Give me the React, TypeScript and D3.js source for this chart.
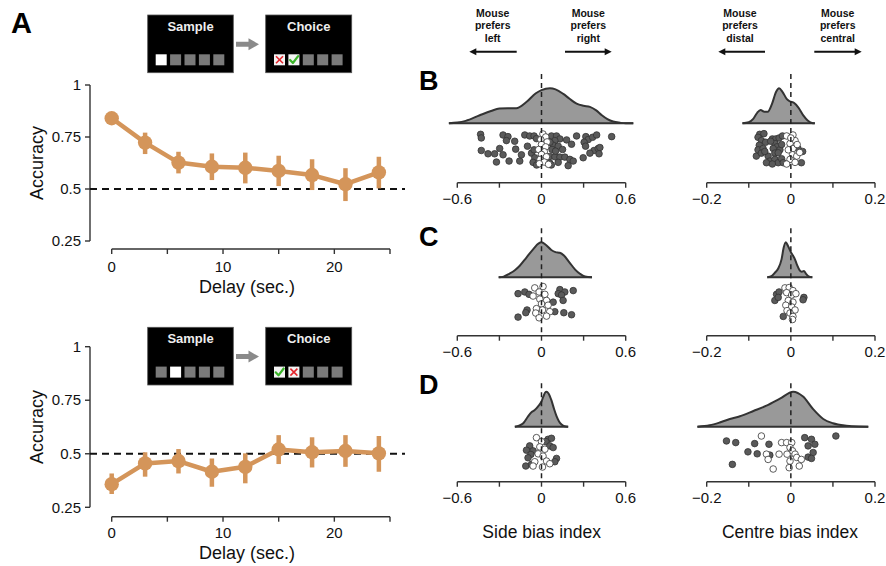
import React from 'react';
import * as d3 from 'd3';

// ---------------- data ----------------
const delays = [0, 3, 6, 9, 12, 15, 18, 21, 24];
const accMeanTop = [0.84, 0.723, 0.627, 0.607, 0.602, 0.587, 0.567, 0.523, 0.58];
const accLoTop = [0.82, 0.668, 0.575, 0.543, 0.527, 0.514, 0.495, 0.442, 0.503];
const accHiTop = [0.86, 0.771, 0.679, 0.671, 0.675, 0.66, 0.643, 0.6, 0.655];
const accMeanBottom = [0.358, 0.455, 0.466, 0.416, 0.439, 0.52, 0.507, 0.513, 0.502];
const accLoBottom = [0.312, 0.393, 0.408, 0.346, 0.362, 0.452, 0.436, 0.439, 0.416];
const accHiBottom = [0.408, 0.507, 0.522, 0.478, 0.502, 0.587, 0.577, 0.587, 0.583];

const delayTicks = [0, 5, 10, 15, 20, 25];
const delayTickLabels = ['0', '', '10', '', '20', ''];
const accTicks = [0.25, 0.5, 0.75, 1];
const accTickLabels = ['0.25', '0.5', '0.75', '1'];
const sideTicks = [-0.6, -0.3, 0, 0.3, 0.6];
const sideTickLabels = ['\u22120.6', '', '0', '', '0.6'];
const centreTicks = [-0.2, -0.1, 0, 0.1, 0.2];
const centreTickLabels = ['\u22120.2', '', '0', '', '0.2'];

// density curves: [bias value, relative height]
const densSideB: [number, number][] = [[-0.66, 0], [-0.6, 0.02], [-0.54, 0.07], [-0.44, 0.23], [-0.36, 0.35], [-0.3, 0.42], [-0.24, 0.43], [-0.18, 0.43], [-0.11, 0.6], [-0.04, 0.86], [0, 0.95], [0.06, 1], [0.1, 0.97], [0.155, 0.84], [0.2, 0.7], [0.25, 0.56], [0.3, 0.5], [0.345, 0.47], [0.39, 0.37], [0.43, 0.23], [0.47, 0.12], [0.51, 0.05], [0.56, 0.015], [0.6, 0], [0.654, 0]];
const densCentreB: [number, number][] = [[-0.115, 0], [-0.1, 0.03], [-0.09, 0.12], [-0.08, 0.3], [-0.072, 0.38], [-0.063, 0.33], [-0.055, 0.33], [-0.045, 0.55], [-0.035, 0.9], [-0.028, 1], [-0.02, 0.9], [-0.01, 0.7], [-0.003, 0.63], [0.008, 0.58], [0.018, 0.45], [0.03, 0.22], [0.04, 0.08], [0.05, 0.01], [0.057, 0]];
const densSideC: [number, number][] = [[-0.305, 0], [-0.27, 0.02], [-0.23, 0.1], [-0.19, 0.2], [-0.155, 0.33], [-0.11, 0.55], [-0.06, 0.8], [-0.02, 0.97], [0, 1], [0.03, 0.93], [0.07, 0.78], [0.1, 0.72], [0.13, 0.7], [0.16, 0.62], [0.2, 0.42], [0.24, 0.22], [0.274, 0.1], [0.31, 0.02], [0.36, 0]];
const densCentreC: [number, number][] = [[-0.056, 0], [-0.045, 0.04], [-0.038, 0.13], [-0.03, 0.25], [-0.022, 0.52], [-0.017, 0.85], [-0.012, 1], [-0.007, 0.9], [0, 0.72], [0.005, 0.62], [0.0095, 0.52], [0.015, 0.35], [0.021, 0.2], [0.026, 0.16], [0.031, 0.18], [0.036, 0.1], [0.042, 0.03], [0.051, 0]];
const densSideD: [number, number][] = [[-0.19, 0], [-0.16, 0.03], [-0.13, 0.1], [-0.1, 0.27], [-0.07, 0.42], [-0.05, 0.47], [-0.024, 0.58], [0, 0.72], [0.012, 0.85], [0.025, 0.97], [0.036, 1], [0.05, 0.95], [0.071, 0.75], [0.09, 0.5], [0.107, 0.3], [0.125, 0.15], [0.143, 0.06], [0.165, 0.01], [0.19, 0]];
const densCentreD: [number, number][] = [[-0.222, 0], [-0.193, 0.04], [-0.169, 0.12], [-0.145, 0.22], [-0.121, 0.3], [-0.089, 0.45], [-0.058, 0.6], [-0.026, 0.8], [0.0055, 1], [0.029, 0.86], [0.053, 0.5], [0.077, 0.22], [0.1, 0.1], [0.132, 0.03], [0.16, 0.005], [0.184, 0]];

// individual mice: [bias value, vertical jitter 0..1, filled (1) / open (0)]
const ptsSideB: [number, number, number][] = [
  [-0.434, 0.04, 1], [-0.429, 0.15, 1], [-0.274, 0.06, 1], [-0.239, 0.11, 1], [-0.25, 0.23, 1], [-0.191, 0.25, 1], [-0.119, 0.06, 1], [-0.084, 0.09, 1], [-0.053, 0.09, 1], [-0.036, 0.17, 1],
  [0.071, 0.09, 1], [0.107, 0.09, 1], [0.131, 0.18, 1], [0.095, 0.23, 1], [0.083, 0.37, 1], [0.119, 0.4, 1], [0.179, 0.21, 1], [0.214, 0.34, 1], [0.25, 0.09, 1], [0.316, 0.11, 1],
  [0.333, 0.2, 1], [0.304, 0.28, 1], [0.364, 0.13, 1], [0.393, 0.06, 1], [0.314, 0.4, 1], [0.374, 0.53, 1], [0.404, 0.47, 1], [0.345, 0.61, 1], [0.5, 0.11, 1], [-0.298, 0.47, 1],
  [-0.429, 0.53, 1], [-0.381, 0.63, 1], [-0.334, 0.63, 1], [-0.274, 0.66, 1], [-0.321, 0.88, 1], [-0.231, 0.85, 1], [-0.155, 0.85, 1], [-0.184, 0.49, 1], [-0.143, 0.66, 1], [-0.071, 0.61, 1],
  [-0.053, 0.51, 1], [-0.048, 0.75, 1], [-0.06, 0.89, 1], [0.059, 0.71, 1], [0.095, 0.72, 1], [0.131, 0.73, 1], [0.166, 0.73, 1], [0.202, 0.8, 1], [0.226, 0.85, 1], [0.19, 0.99, 1],
  [0.119, 0.89, 1], [0.059, 0.91, 1], [0.297, 0.75, 1], [0.416, 0.44, 1], [0.41, 0.63, 1], [0.075, 0.5, 1], [0.1, 0.55, 1], [0.06, 0.28, 1], [0.15, 0.5, 1], [-0.1, 0.4, 1],
  [0.07, 0.97, 1], [-0.035, 0.97, 1],
  [0.01, 0.03, 0], [0.03, 0.12, 0], [-0.005, 0.2, 0], [0.04, 0.27, 0], [0.0, 0.35, 0], [0.03, 0.42, 0], [-0.02, 0.5, 0], [0.02, 0.57, 0], [0.0, 0.65, 0], [0.035, 0.72, 0],
  [-0.01, 0.8, 0], [0.02, 0.88, 0], [0.05, 0.95, 0], [-0.015, 0.93, 0]];
const ptsCentreB: [number, number, number][] = [
  [-0.074, 0.04, 1], [-0.064, 0.02, 1], [-0.078, 0.13, 1], [-0.07, 0.23, 1], [-0.075, 0.37, 1], [-0.082, 0.7, 1], [-0.06, 0.28, 1], [-0.044, 0.18, 1], [-0.036, 0.18, 1], [-0.028, 0.15, 1],
  [-0.02, 0.09, 1], [-0.038, 0.32, 1], [-0.033, 0.42, 1], [-0.042, 0.47, 1], [-0.026, 0.51, 1], [-0.038, 0.61, 1], [-0.054, 0.7, 1], [-0.05, 0.85, 1], [-0.058, 0.9, 1], [-0.038, 0.8, 1],
  [-0.03, 0.9, 1], [-0.022, 0.78, 1], [-0.018, 0.9, 1], [-0.044, 0.94, 1], [-0.078, 0.51, 1], [-0.066, 0.47, 1], [-0.07, 0.61, 1], [-0.062, 0.56, 1], [0.028, 0.56, 1], [0.025, 0.9, 1],
  [0.017, 0.47, 1], [-0.048, 0.25, 1], [-0.03, 0.6, 1], [-0.022, 0.35, 1],
  [-0.01, 0.09, 0], [0.005, 0.06, 0], [0.01, 0.23, 0], [-0.002, 0.32, 0], [0.005, 0.47, 0], [-0.006, 0.51, 0], [0.004, 0.66, 0], [0.014, 0.7, 0], [-0.002, 0.8, 0], [-0.01, 0.94, 0],
  [0.01, 0.89, 0], [0.021, 0.59, 0], [0.0, 0.15, 0], [0.015, 0.35, 0]];
const ptsSideC: [number, number, number][] = [
  [-0.167, 0.24, 1], [-0.119, 0.19, 1], [-0.089, 0.26, 1], [-0.103, 0.72, 1], [-0.112, 0.8, 1], [-0.167, 0.93, 1], [0.131, 0.12, 1], [0.119, 0.24, 1], [0.166, 0.19, 1], [0.226, 0.15, 1],
  [0.143, 0.28, 1], [0.154, 0.44, 1], [0.083, 0.49, 1], [0.095, 0.77, 1], [0.159, 0.8, 1], [0.214, 0.86, 1],
  [-0.048, 0.07, 0], [0.011, 0.03, 0], [-0.017, 0.19, 0], [0.024, 0.26, 0], [-0.06, 0.31, 0], [-0.012, 0.4, 0], [0.036, 0.44, 0], [0, 0.54, 0], [0.047, 0.58, 0], [-0.036, 0.68, 0],
  [0.007, 0.72, 0], [-0.041, 0.81, 0], [0.059, 0.77, 0], [-0.017, 0.95, 0], [0.036, 0.9, 0]];
const ptsCentreC: [number, number, number][] = [
  [-0.034, 0.26, 1], [-0.028, 0.19, 1], [-0.038, 0.44, 1], [-0.03, 0.35, 1], [0.031, 0.35, 1], [0.029, 0.42, 1], [-0.018, 0.91, 1],
  [-0.014, 0.07, 0], [-0.004, 0.06, 0], [0.005, 0.15, 0], [-0.01, 0.21, 0], [0.002, 0.28, 0], [0.012, 0.24, 0], [-0.006, 0.44, 0], [0.005, 0.49, 0], [-0.012, 0.58, 0],
  [0.002, 0.63, 0], [0.01, 0.72, 0], [-0.009, 0.74, 0], [-0.002, 0.81, 0], [0.005, 0.91, 0], [0.004, 1.0, 0]];
const ptsSideD: [number, number, number][] = [
  [-0.084, 0.3, 1], [-0.107, 0.43, 1], [-0.06, 0.45, 1], [-0.076, 0.56, 1], [-0.096, 0.66, 1], [-0.112, 0.91, 1], [0.047, 0.1, 1], [0.071, 0.07, 1], [0.031, 0.17, 1], [0.059, 0.3, 1],
  [0.083, 0.35, 1], [0.107, 0.68, 1], [0.095, 0.78, 1], [-0.071, 0.86, 1],
  [-0.036, 0.05, 0], [0, 0.17, 0], [-0.012, 0.33, 0], [0.024, 0.4, 0], [-0.024, 0.54, 0], [0.011, 0.61, 0], [-0.048, 0.78, 0], [0.036, 0.76, 0], [0.059, 0.84, 0], [0.007, 0.94, 0],
  [-0.06, 0.91, 0]];
const ptsCentreD: [number, number, number][] = [
  [-0.153, 0.15, 1], [-0.131, 0.2, 1], [-0.139, 0.86, 1], [-0.086, 0.23, 1], [-0.052, 0.25, 1], [-0.102, 0.48, 1], [-0.08, 0.54, 1], [0.033, 0.05, 1], [0.049, 0.1, 1], [0.057, 0.25, 1],
  [0.041, 0.3, 1], [0.053, 0.5, 1], [0.041, 0.64, 1], [0.049, 0.68, 1], [0.107, 0.0, 1], [-0.05, 0.58, 1],
  [-0.07, 0.0, 0], [-0.058, 0.55, 0], [-0.054, 0.71, 0], [-0.042, 1.0, 0], [-0.028, 0.55, 0], [-0.022, 0.2, 0], [-0.01, 0.2, 0], [0.002, 0.2, 0], [-0.002, 0.35, 0], [0.004, 0.45, 0],
  [-0.009, 0.55, 0], [0.01, 0.55, 0], [0.014, 0.65, 0], [-0.002, 0.76, 0], [-0.004, 0.96, 0], [0.02, 0.91, 0], [0.025, 0.71, 0]];

// ---------------- styles ----------------
const FONT = "'Liberation Sans', Arial, Helvetica, sans-serif";
const ORANGE = '#D4955A';
const AXIS = '#333';

type AccCfg = {
  mean: number[]; lo: number[]; hi: number[];
  yTop: number; yBot: number; axisY: number; tickY: number; xLabelY: number; yLabelY: number;
};

function AccuracyPanel({ mean, lo, hi, yTop, yBot, axisY, tickY, xLabelY, yLabelY }: AccCfg) {
  const x = d3.scaleLinear().domain([0, 25]).range([111.7, 390]);
  const y = d3.scaleLinear().domain([0.25, 1]).range([yBot, yTop]);
  const line = d3.line<number>().x((_, i) => x(delays[i])).y((d) => y(d));
  const axisX = 90;
  return (
    <g>
      <line x1={axisX} x2={axisX} y1={y(1)} y2={y(0.25)} stroke={AXIS} strokeWidth={1.4} />
      {accTicks.map((t, i) => (
        <g key={'yt' + i}>
          <line x1={axisX - 5} x2={axisX} y1={y(t)} y2={y(t)} stroke={AXIS} strokeWidth={1.4} />
          <text x={axisX - 9} y={y(t)} dy="0.35em" textAnchor="end" fontSize={15} fontFamily={FONT} fill="#111">{accTickLabels[i]}</text>
        </g>
      ))}
      <line x1={x(0)} x2={x(25)} y1={axisY} y2={axisY} stroke={AXIS} strokeWidth={1.4} />
      {delayTicks.map((t, i) => (
        <g key={'xt' + i}>
          <line x1={x(t)} x2={x(t)} y1={axisY} y2={axisY + 5} stroke={AXIS} strokeWidth={1.4} />
          {delayTickLabels[i] && (
            <text x={x(t)} y={tickY} textAnchor="middle" fontSize={15} fontFamily={FONT} fill="#111">{delayTickLabels[i]}</text>
          )}
        </g>
      ))}
      <text x={247} y={xLabelY} textAnchor="middle" fontSize={18} fontFamily={FONT} fill="#111">Delay (sec.)</text>
      <text transform={`translate(43,${yLabelY}) rotate(-90)`} textAnchor="middle" fontSize={18} fontFamily={FONT} fill="#111">Accuracy</text>
      <line x1={axisX} x2={405} y1={y(0.5)} y2={y(0.5)} stroke="#111" strokeWidth={2} strokeDasharray="7,5" />
      <path d={line(mean) || ''} fill="none" stroke={ORANGE} strokeWidth={4.5} strokeLinejoin="round" />
      {mean.map((m, i) => (
        <g key={'p' + i}>
          <line x1={x(delays[i])} x2={x(delays[i])} y1={y(lo[i])} y2={y(hi[i])} stroke={ORANGE} strokeWidth={4.5} />
          <circle cx={x(delays[i])} cy={y(m)} r={7.2} fill={ORANGE} />
        </g>
      ))}
    </g>
  );
}

function Inset({ top, samplePos, firstCorrect }: { top: number; samplePos: number; firstCorrect: boolean }) {
  const h = 57.7;
  const sq = (x0: number, i: number) => x0 + i * 14.4;
  const sqY = top + 39.3;
  const sqS = 11;
  const check = (cx: number, cy: number) => (
    <path d={`M${cx - 3.8},${cy + 0.2} L${cx - 1},${cy + 3.2} L${cx + 4.2},${cy - 3.6}`} fill="none" stroke="#3bb52a" strokeWidth={2.2} strokeLinecap="round" strokeLinejoin="round" />
  );
  const cross = (cx: number, cy: number) => (
    <g stroke="#e3262d" strokeWidth={1.6}>
      <line x1={cx - 3.5} x2={cx + 3.5} y1={cy - 3.5} y2={cy + 3.5} />
      <line x1={cx - 3.5} x2={cx + 3.5} y1={cy + 3.5} y2={cy - 3.5} />
    </g>
  );
  return (
    <g>
      <rect x={147.7} y={top} width={85.6} height={h} fill="#000" stroke="#555" strokeWidth={0.8} />
      <rect x={265.7} y={top} width={86} height={h} fill="#000" stroke="#555" strokeWidth={0.8} />
      <text x={190.5} y={top + 15.5} textAnchor="middle" fontSize={13} fontWeight="bold" fontFamily={FONT} fill="#eee">Sample</text>
      <text x={308.7} y={top + 15.5} textAnchor="middle" fontSize={13} fontWeight="bold" fontFamily={FONT} fill="#eee">Choice</text>
      {[0, 1, 2, 3, 4].map((i) => (
        <rect key={'s' + i} x={sq(155.7, i)} y={sqY} width={sqS} height={sqS} fill={i === samplePos ? '#fff' : '#7a7a7a'} />
      ))}
      {[0, 1, 2, 3, 4].map((i) => (
        <rect key={'c' + i} x={sq(274, i)} y={sqY} width={sqS} height={sqS} fill={i < 2 ? '#f4f4f4' : '#7a7a7a'} />
      ))}
      {firstCorrect ? check(sq(274, 0) + 5.5, sqY + 5.5) : cross(sq(274, 0) + 5.5, sqY + 5.5)}
      {firstCorrect ? cross(sq(274, 1) + 5.5, sqY + 5.5) : check(sq(274, 1) + 5.5, sqY + 5.5)}
      <polygon points={`236,${top + 26.8} 248.5,${top + 26.8} 248.5,${top + 23.3} 259,${top + 29.3} 248.5,${top + 35.3} 248.5,${top + 31.8} 236,${top + 31.8}`} fill="#8a8a8a" />
    </g>
  );
}

type BiasCfg = {
  domain: [number, number]; range: [number, number]; ticks: number[]; labels: string[];
  dens: [number, number][]; pts: [number, number, number][];
  base: number; stripTop: number; stripH: number; axisY: number; dashTop: number;
};

function BiasPanel({ domain, range, ticks, labels, dens, pts, base, stripTop, stripH, axisY, dashTop }: BiasCfg) {
  const x = d3.scaleLinear().domain(domain).range(range);
  const H = 35;
  const area = d3.area<[number, number]>().x((d) => x(d[0])).y0(base).y1((d) => base - d[1] * H).curve(d3.curveMonotoneX);
  const line = d3.line<[number, number]>().x((d) => x(d[0])).y((d) => base - d[1] * H).curve(d3.curveMonotoneX);
  return (
    <g>
      <path d={area(dens) || ''} fill="#999" />
      <path d={line(dens) || ''} fill="none" stroke="#333" strokeWidth={2} />
      <line x1={x(dens[0][0])} x2={x(dens[dens.length - 1][0])} y1={base} y2={base} stroke="#333" strokeWidth={2} />
      {pts.map((p, i) => (
        <circle key={i} cx={x(p[0])} cy={stripTop + p[1] * stripH} r={3.3} fill={p[2] ? '#5a5a5a' : '#fff'} stroke="#333" strokeWidth={0.8} />
      ))}
      <line x1={x(0)} x2={x(0)} y1={dashTop} y2={axisY - 1} stroke="#222" strokeWidth={1.5} strokeDasharray="5,4" />
      <line x1={x(ticks[0])} x2={x(ticks[ticks.length - 1])} y1={axisY} y2={axisY} stroke={AXIS} strokeWidth={1.4} />
      {ticks.map((t, i) => (
        <g key={'t' + i}>
          <line x1={x(t)} x2={x(t)} y1={axisY} y2={axisY + 5} stroke={AXIS} strokeWidth={1.4} />
          {labels[i] && (
            <text x={x(t)} y={axisY + 21} textAnchor="middle" fontSize={15} fontFamily={FONT} fill="#111">{labels[i]}</text>
          )}
        </g>
      ))}
    </g>
  );
}

function Annot({ cx, words, dir, x1, x2 }: { cx: number; words: string[]; dir: number; x1: number; x2: number }) {
  const ay = 51.7;
  const tip = dir < 0 ? Math.min(x1, x2) : Math.max(x1, x2);
  return (
    <g>
      {words.map((w, i) => (
        <text key={i} x={cx} y={16.7 + i * 12.5} textAnchor="middle" fontSize={10.5} fontWeight="bold" fontFamily={FONT} fill="#111">{w}</text>
      ))}
      <line x1={x1} x2={tip - dir * 5} y1={ay} y2={ay} stroke="#111" strokeWidth={2} />
      <polygon points={`${tip},${ay} ${tip - dir * 7},${ay - 3.5} ${tip - dir * 7},${ay + 3.5}`} fill="#111" />
    </g>
  );
}

export default function App() {
  const sideRange: [number, number] = [457.3, 625.7];
  const centreRange: [number, number] = [706.7, 875];
  const rows = [
    { label: 'B', ly: 90, base: 123.3, stripTop: 133, stripH: 33, axisY: 182.7, dashTop: 74, ds: densSideB, dc: densCentreB, ps: ptsSideB, pc: ptsCentreB },
    { label: 'C', ly: 246, base: 277.3, stripTop: 285.5, stripH: 34, axisY: 335.7, dashTop: 228.3, ds: densSideC, dc: densCentreC, ps: ptsSideC, pc: ptsCentreC },
    { label: 'D', ly: 394, base: 426.7, stripTop: 436, stripH: 33, axisY: 481.7, dashTop: 383.3, ds: densSideD, dc: densCentreD, ps: ptsSideD, pc: ptsCentreD },
  ];
  return (
    <svg width={886} height={566} viewBox="0 0 886 566" style={{ position: 'absolute', left: 0, top: 0, background: '#fff' }}>
      <rect x={0} y={0} width={886} height={566} fill="#fff" />
      <text x={11} y={33} fontSize={29} fontWeight="bold" fontFamily={FONT} fill="#000">A</text>
      <Inset top={15} samplePos={0} firstCorrect={false} />
      <Inset top={327.3} samplePos={1} firstCorrect={true} />
      <AccuracyPanel mean={accMeanTop} lo={accLoTop} hi={accHiTop} yTop={85} yBot={241} axisY={249} tickY={272} xLabelY={293} yLabelY={163} />
      <AccuracyPanel mean={accMeanBottom} lo={accLoBottom} hi={accHiBottom} yTop={346.7} yBot={507.3} axisY={516.7} tickY={538} xLabelY={559} yLabelY={427} />

      <Annot cx={492.7} words={['Mouse', 'prefers', 'left']} dir={-1} x1={516.7} x2={469.3} />
      <Annot cx={588.3} words={['Mouse', 'prefers', 'right']} dir={1} x1={565} x2={611.7} />
      <Annot cx={740} words={['Mouse', 'prefers', 'distal']} dir={-1} x1={765} x2={718.3} />
      <Annot cx={837.7} words={['Mouse', 'prefers', 'central']} dir={1} x1={814.3} x2={861.7} />

      {rows.map((r) => (
        <g key={r.label}>
          <text x={419} y={r.ly} fontSize={27} fontWeight="bold" fontFamily={FONT} fill="#000">{r.label}</text>
          <BiasPanel domain={[-0.6, 0.6]} range={sideRange} ticks={sideTicks} labels={sideTickLabels} dens={r.ds} pts={r.ps}
            base={r.base} stripTop={r.stripTop} stripH={r.stripH} axisY={r.axisY} dashTop={r.dashTop} />
          <BiasPanel domain={[-0.2, 0.2]} range={centreRange} ticks={centreTicks} labels={centreTickLabels} dens={r.dc} pts={r.pc}
            base={r.base} stripTop={r.stripTop} stripH={r.stripH} axisY={r.axisY} dashTop={r.dashTop} />
        </g>
      ))}
      <text x={541.7} y={538} textAnchor="middle" fontSize={17.5} fontFamily={FONT} fill="#111">Side bias index</text>
      <text x={790} y={538} textAnchor="middle" fontSize={17.5} fontFamily={FONT} fill="#111">Centre bias index</text>
    </svg>
  );
}
